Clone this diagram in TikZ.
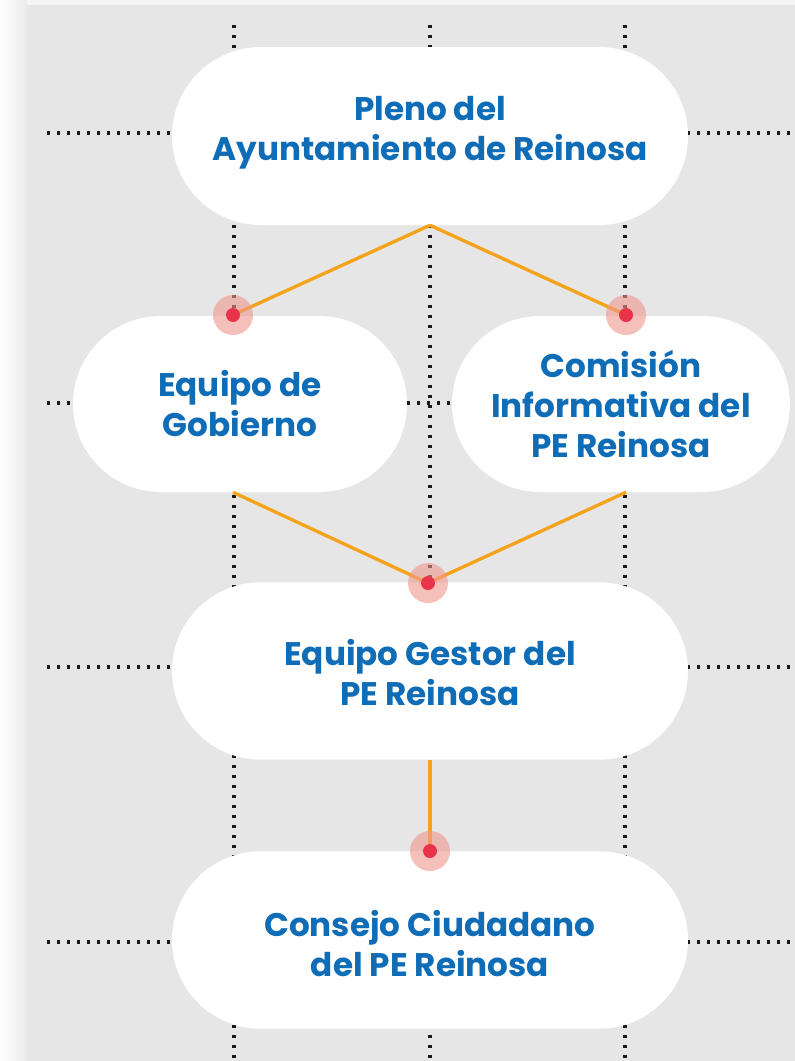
\documentclass[tikz,border=0pt]{standalone}
\usepackage{fontspec}
\setmainfont{Poppins}
\usetikzlibrary{shapes.misc}
\definecolor{panel}{HTML}{E6E6E6}
\definecolor{txtblue}{HTML}{0F6CB6}
\definecolor{lineorange}{HTML}{F5A31A}
\definecolor{dotred}{HTML}{E8334A}
\definecolor{halopink}{RGB}{240,150,140}
\newcommand{\vmove}[2]{\raisebox{#1}[\height][\depth]{\begin{tabular}{@{}c@{}}#2\end{tabular}}}
\tikzset{
  box/.style={rounded rectangle, fill=white, inner sep=0pt, align=center,
    text=txtblue, font=\fontsize{24.5}{30}\selectfont\bfseries},
  grid/.style={line width=2.4pt, dash pattern=on 2.2pt off 5.3pt, black!90},
  link/.style={line width=2.5pt, lineorange},
  halo/.style={circle, fill=halopink, fill opacity=0.6, minimum size=30pt, inner sep=0pt},
  reddot/.style={circle, fill=dotred, minimum size=10.5pt, inner sep=0pt},
}
\begin{document}
\begin{tikzpicture}[x=0.75pt,y=-0.75pt]
\useasboundingbox (0,0) rectangle (795,1061);
% background and shadow
\fill[white] (0,0) rectangle (795,1061);
\shade[left color=white, right color=black!8] (0,0) rectangle (27,1061);
\fill[black!4] (27,0) rectangle (795,5);
\fill[panel] (27,5) rectangle (795,1061);
% dotted grid
\foreach \x in {234,430,625} \draw[grid] (\x,25) -- (\x,1061);
\foreach \y in {133,403,667,942} \draw[grid] (47,\y) -- (795,\y);
% boxes
\node[box, minimum width=387pt, minimum height=133.5pt] (pleno) at (430,136) {\vmove{2.5pt}{Pleno del\\Ayuntamiento de Reinosa}};
\node[box, minimum width=250.5pt, minimum height=132pt] (gob) at (240,404) {Equipo de\\Gobierno};
\node[box, minimum width=253.5pt, minimum height=132pt] (com) at (621,404) {Comisión\\Informativa del\\PE Reinosa};
\node[box, minimum width=387pt, minimum height=133pt] (gestor) at (430,671) {\vmove{-4.5pt}{Equipo Gestor del\\PE Reinosa}};
\node[box, minimum width=387pt, minimum height=133pt] (consejo) at (430,940) {\vmove{-6.5pt}{Consejo Ciudadano\\del PE Reinosa}};
% dot positions
\coordinate (d1) at (233,315);
\coordinate (d2) at (626,315);
\coordinate (d3) at (428,583);
\coordinate (d4) at (430,851);
% connectors
\draw[link] (pleno.south) -- (d1);
\draw[link] (pleno.south) -- (d2);
\draw[link] (d1 |- gob.south) -- (d3);
\draw[link] (d2 |- com.south) -- (d3);
\draw[link] (gestor.south) -- (d4);
% markers
\foreach \d in {d1,d2,d3,d4} {
  \node[halo] (h\d) at (\d) {};
  \node[reddot] (r\d) at (\d) {};
}
\end{tikzpicture}
\end{document}
